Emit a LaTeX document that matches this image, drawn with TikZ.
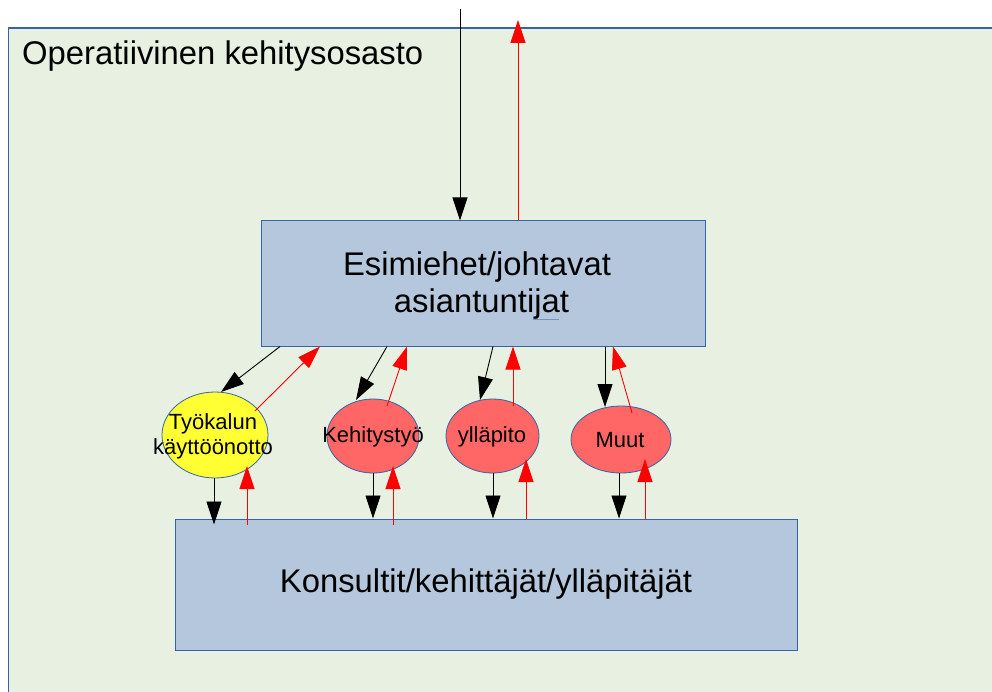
\documentclass[tikz,border=0pt]{standalone}
\usepackage{fontspec}
\setmainfont{Liberation Sans}
\usetikzlibrary{arrows.meta,shapes.geometric,calc}
\definecolor{bgcol}{HTML}{E8F0E1}
\definecolor{boxfill}{HTML}{B4C7DC}
\definecolor{boxline}{HTML}{3465A4}
\definecolor{ellred}{HTML}{FF6666}
\definecolor{ellyel}{HTML}{FFFF33}
\definecolor{arrred}{HTML}{FF0000}
\tikzset{
  bigbox/.style={draw=boxline, line width=1pt, fill=boxfill, rectangle, inner sep=0pt, align=center, font=\fontsize{32.8}{37}\selectfont},
  bigtext/.style={inner sep=0pt, align=center, font=\fontsize{32.8}{37}\selectfont},
  oval/.style={draw=boxline, line width=0.8pt, ellipse, inner sep=0pt},
  ovaltext/.style={align=center, inner sep=0pt, font=\fontsize{22}{25}\selectfont},
  blackarr/.style={draw=black, line width=0.9pt, -{Triangle[length=23pt,width=15pt]}},
  redarr/.style={draw=arrred, line width=0.9pt, -{Triangle[length=23pt,width=15pt]}}
}
\begin{document}
\begin{tikzpicture}[x=1pt,y=-1pt]
\useasboundingbox (0,0) rectangle (992,692);
\clip (0,0) rectangle (992,692);
% outer area
\draw[fill=bgcol, draw=boxline, line width=1.3pt] (8.5,28) rectangle (1000,700);
\node[anchor=base west, inner sep=0pt, font=\fontsize{32.8}{37}\selectfont] (title) at (22,65) {Operatiivinen kehitysosasto};
% boxes
\node[bigbox, minimum width=444pt, minimum height=125pt] (top) at (483,283.5) {};
\node[bigtext] (toptext) at (481.5,286) {Esimiehet/johtavat\kern9pt\\asiantuntijat};
\draw[draw=boxline!70, line width=1pt] (533,319) -- (559,319);
\node[bigbox, minimum width=622pt, minimum height=131pt] (bot) at (486,584.5) {Konsultit/kehittäjät/ylläpitäjät};
% ellipses
\node[oval, fill=ellyel, minimum width=106pt, minimum height=86pt] (yel) at (215,435) {};
\node[ovaltext] (yeltext) at (213,436) {Työkalun\\käyttöönotto};
\node[oval, fill=ellred, minimum width=92pt, minimum height=74pt] (keh) at (373,436) {};
\node[ovaltext] (kehtext) at (373,437) {Kehitystyö};
\node[oval, fill=ellred, minimum width=93pt, minimum height=74pt] (yl) at (492.5,436) {};
\node[ovaltext] (yltext) at (492,437) {ylläpito};
\node[oval, fill=ellred, minimum width=100pt, minimum height=67pt] (mu) at (621,439.5) {};
\node[ovaltext] (mutext) at (620,440) {Muut};
% free ends
\coordinate (in) at (460,9);
\coordinate (out) at (518,20);
% arrows
\draw[blackarr] (in) -- ($(top.north)+(-23,0)$);
\draw[redarr] ($(top.north)+(35,0)$) -- (out);
\draw[blackarr] ($(top.south)+(-203,0)$) -- ($(yel)+(6,-43)$);
\draw[redarr] ($(yel)+(40,-24)$) -- ($(top.south)+(-163,0)$);
\draw[blackarr] ($(top.south)+(-96,0)$) -- ($(keh)+(-17,-36)$);
\draw[redarr] ($(keh)+(14,-30)$) -- ($(top.south)+(-76,0)$);
\draw[blackarr] ($(yel)+(-1,43)$) -- ($(bot.north)+(-272,6)$);
\draw[redarr] ($(bot.north)+(-239,6)$) -- ($(yel)+(32,31)$);
\draw[blackarr] ($(keh)+(0,37)$) -- ($(bot.north)+(-113,0)$);
\draw[redarr] ($(bot.north)+(-93,6)$) -- ($(keh)+(20,30)$);
\draw[blackarr] ($(top.south)+(10,0)$) -- ($(yl)+(-12.5,-36)$);
\draw[redarr] ($(yl)+(20.5,-30)$) -- ($(top.south)+(30,0)$);
\draw[blackarr] ($(yl)+(0.5,37)$) -- ($(bot.north)+(7,0)$);
\draw[redarr] ($(bot.north)+(40,0)$) -- ($(yl)+(33.5,23)$);
\draw[blackarr] ($(top.south)+(122,0)$) -- ($(mu)+(-16,-32.5)$);
\draw[redarr] ($(mu)+(11,-26.5)$) -- ($(top.south)+(130,0)$);
\draw[blackarr] ($(mu)+(-2,33.5)$) -- ($(bot.north)+(133,0)$);
\draw[redarr] ($(bot.north)+(159,0)$) -- ($(mu)+(24,19.5)$);
\end{tikzpicture}
\end{document}
